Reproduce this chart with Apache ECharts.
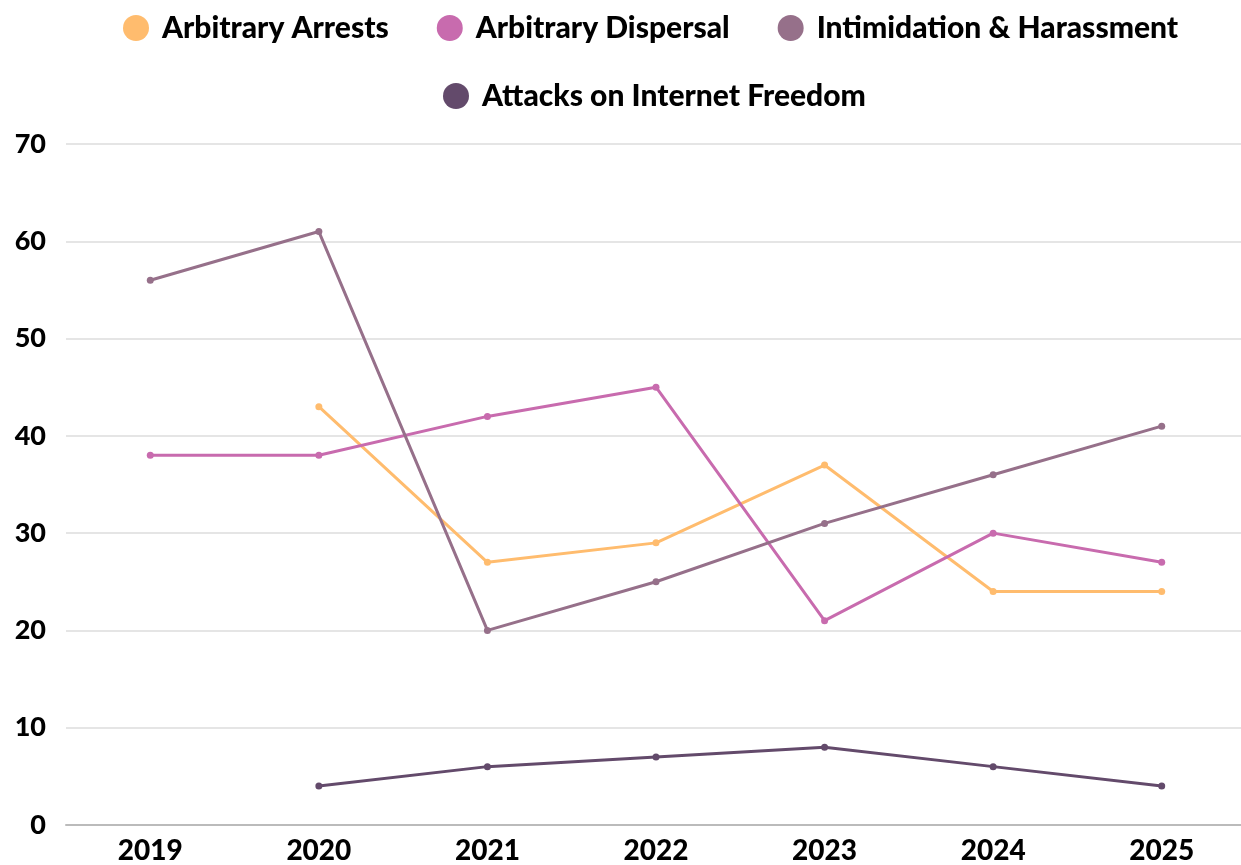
<!DOCTYPE html>
<html><head><meta charset="utf-8">
<script src="https://cdn.jsdelivr.net/npm/echarts@6/dist/echarts.min.js"></script>
<style>html,body{margin:0;padding:0;background:#fff;overflow:hidden}#c{width:1246px;height:865px}</style>
</head><body><div id="c"></div>
<script>
const years = ['2019','2020','2021','2022','2023','2024','2025'];
const arrests = [null, 43, 27, 29, 37, 24, 24];
const dispersal = [38, 38, 42, 45, 21, 30, 27];
const intimidation = [56, 61, 20, 25, 31, 36, 41];
const internet = [null, 4, 6, 7, 8, 6, 4];
const names = ['Arbitrary Arrests','Arbitrary Dispersal','Intimidation & Harassment','Attacks on Internet Freedom'];
const colors = ['#FFBC6E','#C86BAE','#96708A','#634A6B'];
const font = 'Lato';
const legendBase = {
  icon:'circle', itemWidth:26, itemHeight:26, itemGap:48,
  textStyle:{fontFamily:font, fontWeight:900, fontSize:30, color:'#000', padding:[0,0,0,8]}
};
const mk = (name, data, i) => ({
  name, type:'line', data, color:colors[i],
  symbol:'circle', symbolSize:7, lineStyle:{width:3}, connectNulls:false
});
const chart = echarts.init(document.getElementById('c'));
chart.setOption({
  animation:false,
  legend:[
    Object.assign({}, legendBase, {data:names.slice(0,3), top:8, left:118}),
    Object.assign({}, legendBase, {data:names.slice(3), top:76, left:438})
  ],
  grid:{left:66, right:0, top:144, bottom:38, containLabel:false},
  xAxis:{type:'category', data:years, boundaryGap:true,
    axisLine:{lineStyle:{color:'#bbb', width:2}}, axisTick:{show:false},
    axisLabel:{fontFamily:font, fontWeight:900, fontSize:28, color:'#000', margin:12}},
  yAxis:{type:'value', min:0, max:70, interval:10,
    axisLine:{show:false}, axisTick:{show:false},
    splitLine:{lineStyle:{color:'#dcdcdc', width:1.5}},
    axisLabel:{fontFamily:font, fontWeight:900, fontSize:27, color:'#000', margin:20}},
  series:[mk(names[0],arrests,0), mk(names[1],dispersal,1), mk(names[2],intimidation,2), mk(names[3],internet,3)]
});
</script></body></html>
